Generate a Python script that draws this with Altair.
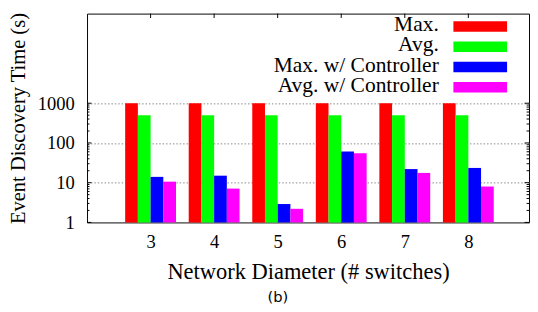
import altair as alt
import pandas as pd

# ---- data ----
diameters = [3, 4, 5, 6, 7, 8]
series = ["Max.", "Avg.", "Max. w/ Controller", "Avg. w/ Controller"]
colors = ["#ff0000", "#00ff00", "#0000ff", "#ff00ff"]
max_vals = [1000, 1000, 1000, 1000, 1000, 1000]
avg_vals = [500, 500, 500, 500, 500, 500]
max_ctrl_vals = [14.0, 15.0, 2.9, 61.0, 22.0, 23.5]
avg_ctrl_vals = [10.6, 7.1, 2.2, 55.0, 17.6, 8.0]
y_ticks = [1, 10, 100, 1000]
y_minor = [m * 10 ** e for e in range(3) for m in range(2, 10)]

rows = []
for k, (name, vals) in enumerate(zip(series, [max_vals, avg_vals, max_ctrl_vals, avg_ctrl_vals])):
    for d, v in zip(diameters, vals):
        rows.append({"diameter": d, "series": name, "k": k, "value": v})
df = pd.DataFrame(rows)

W, H = 453, 214
FONT = "Liberation Serif"

xscale = alt.Scale(domain=[2, 8.955], nice=False, zero=False, padding=0)
yscale = alt.Scale(type="log", domain=[1, 180000], nice=False, padding=0)
cscale = alt.Scale(domain=series, range=colors)

bars = alt.Chart(df).transform_calculate(
    x0="datum.diameter - 0.4 + 0.2 * datum.k",
    x1="datum.diameter - 0.2 + 0.2 * datum.k",
).mark_bar(strokeWidth=0).encode(
    x=alt.X("x0:Q", scale=xscale,
            axis=alt.Axis(values=diameters, format="d", title="Network Diameter (# switches)",
                          grid=False, labelPadding=11, titlePadding=9, titleFontSize=23)),
    x2="x1:Q",
    y=alt.Y("value:Q", scale=yscale,
            axis=alt.Axis(values=y_ticks, format="d", title="Event Discovery Time (s)",
                          grid=True, labelPadding=13, titlePadding=9)),
    y2=alt.datum(1),
    color=alt.Color("series:N", scale=cscale, legend=None),
)

minor_df = pd.DataFrame({"value": y_minor})
major_df = pd.DataFrame({"value": y_ticks})
top_df = pd.DataFrame({"x0": diameters})

left_minor = alt.Chart(minor_df).mark_rule(color="black", strokeWidth=1).encode(
    y=alt.Y("value:Q", scale=yscale), x=alt.value(0), x2=alt.value(2.5))
right_minor = alt.Chart(minor_df).mark_rule(color="black", strokeWidth=1).encode(
    y=alt.Y("value:Q", scale=yscale), x=alt.value(W), x2=alt.value(W - 2.5))
left_major = alt.Chart(major_df).mark_rule(color="black", strokeWidth=1).encode(
    y=alt.Y("value:Q", scale=yscale), x=alt.value(0), x2=alt.value(4.5))
right_major = alt.Chart(major_df).mark_rule(color="black", strokeWidth=1).encode(
    y=alt.Y("value:Q", scale=yscale), x=alt.value(W), x2=alt.value(W - 4.5))
top_ticks = alt.Chart(top_df).mark_rule(color="black", strokeWidth=1).encode(
    x=alt.X("x0:Q", scale=xscale), y=alt.value(0), y2=alt.value(4.5))

main = alt.layer(bars, left_minor, right_minor, left_major, right_major, top_ticks)

# ---- gnuplot-style key (label left, swatch right) ----
leg_df = pd.DataFrame({"series": series})
leg_y = alt.Y("series:N", scale=alt.Scale(type="point", domain=series, range=[13.3, 75.5],
                                          padding=0), axis=None)
leg_swatch = alt.Chart(leg_df).mark_rule(strokeWidth=10.7, strokeCap="butt").encode(
    y=leg_y, x=alt.value(375.5), x2=alt.value(430.5),
    color=alt.Color("series:N", scale=cscale, legend=None))
leg_text = alt.Chart(leg_df).mark_text(align="right", baseline="alphabetic", dy=4.7,
                                       font=FONT, fontSize=22, color="black").encode(
    y=leg_y, x=alt.value(360.5), text="series:N")
legend = alt.layer(leg_swatch, leg_text)

chart = alt.layer(main, legend).resolve_scale(y="independent").properties(
    width=W, height=H,
    padding={"left": 0, "top": 0, "right": 0, "bottom": 0},
    title=alt.TitleParams("(b)", orient="bottom", font="DejaVu Sans", fontSize=15,
                          fontWeight="normal", color="black", dx=-31, offset=8),
).configure(
    font=FONT
).configure_view(
    stroke="black", strokeWidth=1
).configure_axis(
    domain=False, ticks=False, tickSize=0,
    labelFont=FONT, labelFontSize=19, labelColor="black",
    titleFont=FONT, titleFontSize=21, titleFontWeight="normal", titleColor="black",
    gridColor="#888888", gridDash=[1.5, 2], gridWidth=1,
)

chart.save("out.html", embed_options={"renderer": "svg", "actions": False})
